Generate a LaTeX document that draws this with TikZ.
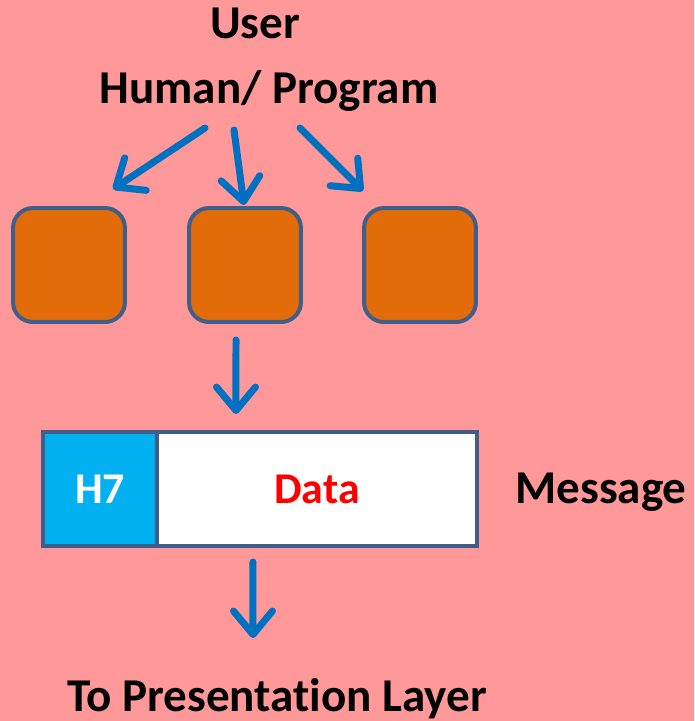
\documentclass[tikz,border=0pt]{standalone}
\usepackage{fontspec}
\setmainfont{Carlito}[Ligatures=NoCommon]
\usepackage{xcolor}
\usetikzlibrary{arrows.meta}

\definecolor{bgpink}{RGB}{255,153,153}
\definecolor{boxorange}{RGB}{227,108,10}
\definecolor{edgeblue}{RGB}{63,95,138}
\definecolor{arrowblue}{RGB}{0,112,192}
\definecolor{hdrblue}{RGB}{0,176,240}

\begin{document}
\begin{tikzpicture}[x=0.02cm,y=-0.02cm,
  lbl/.style={font=\fontsize{26.8}{30}\selectfont\bfseries, anchor=base},
  proc/.style={draw=edgeblue, fill=boxorange, line width=0.08cm, rounded corners=0.4cm,
    minimum width=2.24cm, minimum height=2.28cm, inner sep=0pt},
  cell/.style={draw=edgeblue, line width=0.08cm, minimum height=2.28cm, inner sep=0pt,
    outer sep=0pt, font=\fontsize{25}{28}\selectfont\bfseries},
  flow/.style={draw=arrowblue, line width=0.14cm, line cap=round,
    -{Straight Barb[round, length=0.47cm, width=0.78cm]}}]
\fill[bgpink] (0,0) rectangle (694,721);
\useasboundingbox (0,0) rectangle (694,721);

\node[lbl] (user) at (255,38) {User};
\node[lbl] (prog) at (269,103) {Human/ Program};

\node[proc] (app1) at (69,265) {};
\node[proc] (app2) at (245,265) {};
\node[proc] (app3) at (420,265) {};

\node[cell, fill=hdrblue, text=white, minimum width=2.28cm] (h7) at (100,489) {H7};
\node[cell, fill=white, text=red, minimum width=6.4cm, anchor=west] (data) at (h7.east) {Data};
\node[lbl] (msg) at (601,503) {Message};
\node[lbl] (pres) at (277,711) {To Presentation Layer};

% user picks an application
\draw[flow] ([shift={(-64,25)}]prog.base) -- ([shift={(-14,-17)}]app1.north east);
\draw[flow] ([shift={(-35,27)}]prog.base) -- ([shift={(-1,-1)}]app2.north);
\draw[flow] ([shift={(31,25)}]prog.base) -- ([shift={(1,-15)}]app3.north west);

\draw[flow] ([shift={(-9,16)}]app2.south) -- ([shift={(79,-18)}]h7.north east);
\draw[flow] ([shift={(-64,16)}]data.south) -- ([shift={(-24,-73)}]pres.base);
\end{tikzpicture}
\end{document}
